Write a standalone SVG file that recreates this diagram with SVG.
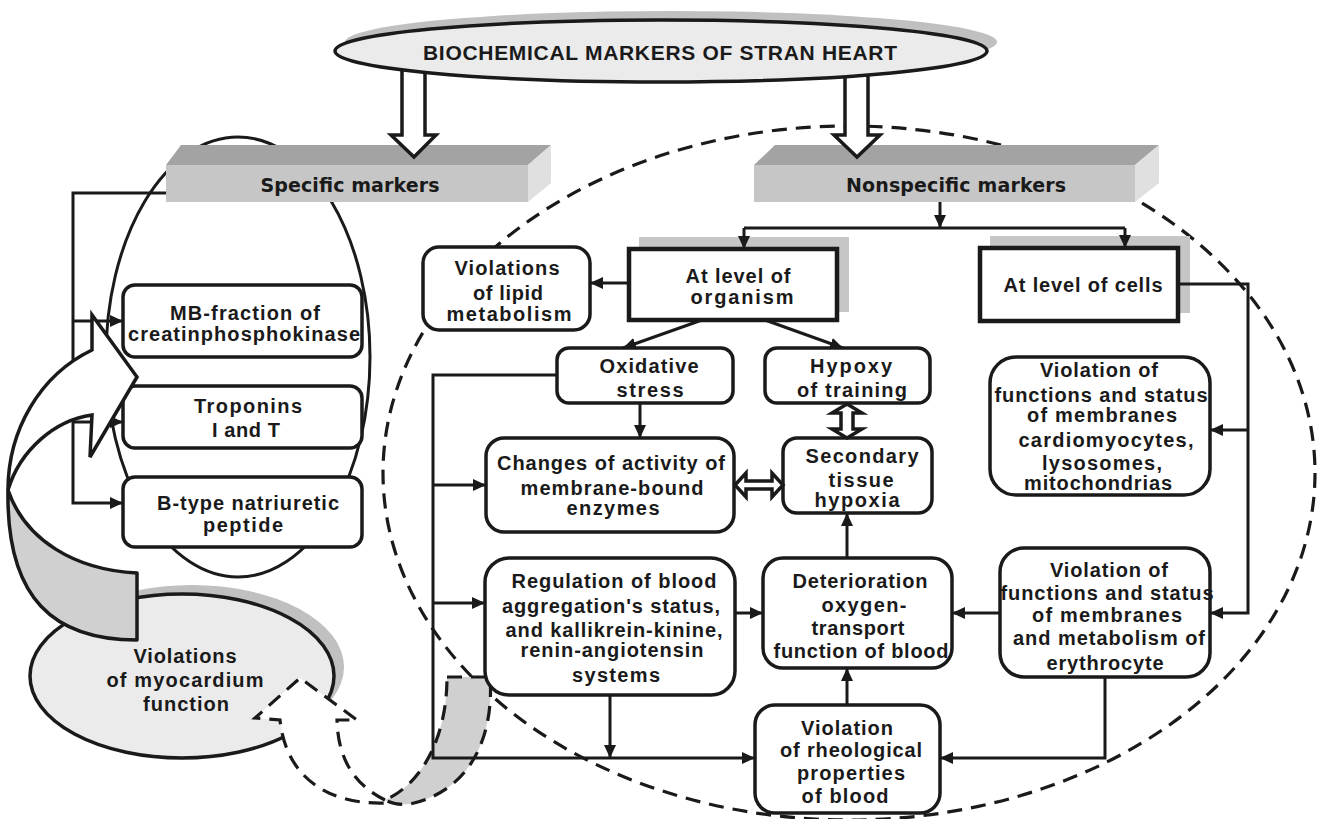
<svg xmlns="http://www.w3.org/2000/svg" width="1317" height="819" viewBox="0 0 1317 819">
<defs>
<marker id="ah" markerUnits="userSpaceOnUse" markerWidth="13" markerHeight="12" refX="13" refY="6" orient="auto">
<path d="M0,0 L13,6 L0,12 Z" fill="#1a1a1a"/>
</marker>
<style>
.bx{fill:#fff;stroke:#1a1a1a;stroke-width:3.5}
.sq{fill:#fff;stroke:#1a1a1a;stroke-width:4.5}
.sh{fill:#c6c6c6}
.ln{fill:none;stroke:#1a1a1a;stroke-width:3}
.ar{fill:none;stroke:#1a1a1a;stroke-width:3;marker-end:url(#ah)}
.blk{fill:#fff;stroke:#1a1a1a;stroke-width:3.5;stroke-linejoin:miter}
.dsh{stroke:#1a1a1a;stroke-width:3.2;stroke-dasharray:15 9}
.t{font-family:"Liberation Sans",Arial,sans-serif;font-weight:bold;font-size:20px;fill:#1a1a1a;text-anchor:middle}
.h{font-family:"DejaVu Sans",Verdana,sans-serif;font-weight:bold;font-size:19px;fill:#1a1a1a;text-anchor:middle}
</style>
</defs>

<g id="nonspecific-region">
<ellipse cx="849" cy="473" rx="466" ry="347" fill="none" class="dsh"/>
</g>
<g id="specific-region">
<ellipse cx="238" cy="357" rx="132" ry="220" fill="none" stroke="#1a1a1a" stroke-width="3"/>
</g>

<g id="feedback-back">
<path d="M447,677 L490,677 C494,730 475,790 410,804 C400,805 392,804 385,800 C420,785 447,740 447,677 Z" fill="#d0d0d0" class="dsh"/>
</g>

<g id="specific-markers">
<polygon points="166,165 181,145 551,145 528,165" fill="#a3a3a3"/>
<polygon points="528,165 551,145 551,183 528,202" fill="#e0e0e0"/>
<rect x="166" y="165" width="362" height="37" fill="#c6c6c6"/>
<text class="h" x="350" y="192" textLength="179">Specific markers</text>
</g>
<g id="nonspecific-markers">
<polygon points="754,165 775,145 1159,145 1135,165" fill="#a3a3a3"/>
<polygon points="1135,165 1159,145 1159,183 1135,202" fill="#e0e0e0"/>
<rect x="754" y="165" width="381" height="37" fill="#c6c6c6"/>
<text class="h" x="956" y="192" textLength="220">Nonspecific markers</text>
</g>

<g id="title-arrows">
<path class="blk" d="M402,68 L425,68 L425,135 L436,135 L414,157 L391,135 L402,135 Z"/>
<path class="blk" d="M845,68 L868,68 L868,135 L880,135 L857,157 L834,135 L845,135 Z"/>
</g>
<g id="title">
<ellipse cx="671" cy="42" rx="326" ry="31" fill="#c0c0c0"/>
<ellipse cx="661" cy="51" rx="326" ry="31" fill="#ebebeb" stroke="#1a1a1a" stroke-width="3.5"/>
<text class="t" x="660" y="60" style="font-size:21px" textLength="474">BIOCHEMICAL MARKERS OF STRAN HEART</text>
</g>

<g id="mb">
<rect class="bx" x="123" y="285" width="239" height="72" rx="12"/>
<text class="t" x="245" y="320" textLength="150">MB-fraction of</text>
<text class="t" x="244" y="341" textLength="232">creatinphosphokinase</text>
</g>
<g id="troponins">
<rect class="bx" x="123" y="386" width="239" height="62" rx="12"/>
<text class="t" x="248" y="413" textLength="108">Troponins</text>
<text class="t" x="246" y="437" textLength="68">I and T</text>
</g>
<g id="btype">
<rect class="bx" x="123" y="477" width="239" height="70" rx="12"/>
<text class="t" x="248" y="510" textLength="182">B-type natriuretic</text>
<text class="t" x="243" y="532" textLength="80">peptide</text>
</g>

<g id="organism">
<rect class="sh" x="639" y="237" width="210" height="75"/>
<rect class="sq" x="629" y="249" width="208" height="71"/>
<text class="t" x="738" y="283" textLength="105">At level of</text>
<text class="t" x="742" y="304" textLength="103">organism</text>
</g>
<g id="cells">
<rect class="sh" x="990" y="236" width="200" height="77"/>
<rect class="sq" x="980" y="248" width="198" height="73"/>
<text class="t" x="1083" y="292" textLength="159">At level of cells</text>
</g>
<g id="lipid">
<rect class="bx" x="423" y="247" width="167" height="83" rx="16"/>
<text class="t" x="507" y="275" textLength="105">Violations</text>
<text class="t" x="508" y="300" textLength="70">of lipid</text>
<text class="t" x="509" y="321" textLength="125">metabolism</text>
</g>
<g id="oxidative">
<rect class="bx" x="557" y="348" width="176" height="55" rx="12"/>
<text class="t" x="649" y="373" textLength="99">Oxidative</text>
<text class="t" x="650" y="397" textLength="67">stress</text>
</g>
<g id="hypoxy">
<rect class="bx" x="765" y="348" width="165" height="55" rx="12"/>
<text class="t" x="851" y="373" textLength="82">Hypoxy</text>
<text class="t" x="852" y="397" textLength="110">of training</text>
</g>
<g id="changes">
<rect class="bx" x="486" y="438" width="248" height="94" rx="18"/>
<text class="t" x="611" y="470" textLength="228">Changes of activity of</text>
<text class="t" x="612" y="495" textLength="183">membrane-bound</text>
<text class="t" x="613" y="515" textLength="93">enzymes</text>
</g>
<g id="secondary">
<rect class="bx" x="783" y="438" width="149" height="75" rx="14"/>
<text class="t" x="862" y="463" textLength="113">Secondary</text>
<text class="t" x="861" y="487" textLength="65">tissue</text>
<text class="t" x="857" y="507" textLength="85">hypoxia</text>
</g>
<g id="regulation">
<rect class="bx" x="485" y="558" width="250" height="137" rx="24"/>
<text class="t" x="614" y="588" textLength="205">Regulation of blood</text>
<text class="t" x="611" y="613" textLength="218">aggregation's status,</text>
<text class="t" x="614" y="637" textLength="217">and kallikrein-kinine,</text>
<text class="t" x="612" y="657" textLength="183">renin-angiotensin</text>
<text class="t" x="616" y="682" textLength="88">systems</text>
</g>
<g id="deterioration">
<rect class="bx" x="763" y="558" width="189" height="110" rx="20"/>
<text class="t" x="860" y="588" textLength="135">Deterioration</text>
<text class="t" x="864" y="612" textLength="85">oxygen-</text>
<text class="t" x="858" y="635" textLength="93">transport</text>
<text class="t" x="861" y="658" textLength="175">function of blood</text>
</g>
<g id="rheological">
<rect class="bx" x="755" y="705" width="185" height="108" rx="20"/>
<text class="t" x="847" y="735" textLength="92">Violation</text>
<text class="t" x="851" y="757" textLength="142">of rheological</text>
<text class="t" x="851" y="780" textLength="108">properties</text>
<text class="t" x="845" y="803" textLength="87">of blood</text>
</g>
<g id="cardiomyocytes">
<rect class="bx" x="990" y="357" width="220" height="138" rx="26"/>
<text class="t" x="1099" y="377" textLength="118">Violation of</text>
<text class="t" x="1101" y="402" textLength="213">functions and status</text>
<text class="t" x="1102" y="422" textLength="150">of membranes</text>
<text class="t" x="1106" y="447" textLength="175">cardiomyocytes,</text>
<text class="t" x="1102" y="470" textLength="120">lysosomes,</text>
<text class="t" x="1098" y="490" textLength="148">mitochondrias</text>
</g>
<g id="erythrocyte">
<rect class="bx" x="1000" y="548" width="210" height="129" rx="24"/>
<text class="t" x="1109" y="577" textLength="118">Violation of</text>
<text class="t" x="1107" y="600" textLength="213">functions and status</text>
<text class="t" x="1107" y="622" textLength="150">of membranes</text>
<text class="t" x="1109" y="645" textLength="192">and metabolism of</text>
<text class="t" x="1105" y="670" textLength="117">erythrocyte</text>
</g>

<g id="connectors">
<path class="ar" d="M166,193 H73 V503 H123"/>
<path class="ar" d="M73,321 H123"/>
<path class="ar" d="M73,422 H123"/>
<path class="ar" d="M940,202 V228"/>
<path class="ln" d="M744,228 H1125"/>
<path class="ar" d="M744,228 V249"/>
<path class="ar" d="M1125,228 V248"/>
<path class="ar" d="M629,283 H590"/>
<path class="ar" d="M702,320 L623,348"/>
<path class="ar" d="M765,320 L843,348"/>
<path class="ar" d="M640,403 V438"/>
<path class="ar" d="M557,375 H433 V758 H755"/>
<path class="ar" d="M433,485 H486"/>
<path class="ar" d="M433,603 H485"/>
<path class="ar" d="M735,613 H763"/>
<path class="ar" d="M610,695 V758"/>
<path class="ar" d="M847,705 V668"/>
<path class="ar" d="M847,558 V513"/>
<path class="ar" d="M1178,284 H1248 V613 H1210"/>
<path class="ar" d="M1248,430 H1210"/>
<path class="ar" d="M1000,613 H952"/>
<path class="ar" d="M1105,677 V758 H940"/>
<path class="blk" d="M847,404 L862,413 L853,413 L853,429 L862,429 L847,438 L832,429 L841,429 L841,413 L832,413 Z"/>
<path class="blk" d="M735,485 L746,473 L746,481 L772,481 L772,473 L783,485 L772,497 L772,489 L746,489 L746,497 Z"/>
</g>

<g id="myocardium">
<ellipse cx="192" cy="667" rx="152" ry="82" fill="#c0c0c0"/>
<ellipse cx="182" cy="676" rx="152" ry="82" fill="#ebebeb" stroke="#1a1a1a" stroke-width="3.5"/>
<text class="t" x="185" y="663" textLength="103">Violations</text>
<text class="t" x="185" y="687" textLength="157">of myocardium</text>
<text class="t" x="186" y="711" textLength="86">function</text>
</g>

<g id="curved-arrow">
<path d="M8,490 C6,600 55,640 137,640 L137,573 C75,570 25,540 8,490 Z" fill="#d0d0d0" stroke="#1a1a1a" stroke-width="3.5" stroke-linejoin="round"/>
<path d="M92,350 L92,315 L137,377 L90,457 L92,415 C55,420 20,450 8,490 C8,430 40,375 92,350 Z" fill="#fff" stroke="#1a1a1a" stroke-width="3.5" stroke-linejoin="miter"/>
</g>

<g id="feedback-front">
<path d="M385,800 C355,785 338,760 337,720 L357,720 L300,678 L255,718 L280,720 C285,770 320,805 385,803 Z" fill="#fff" class="dsh"/>
</g>
</svg>
